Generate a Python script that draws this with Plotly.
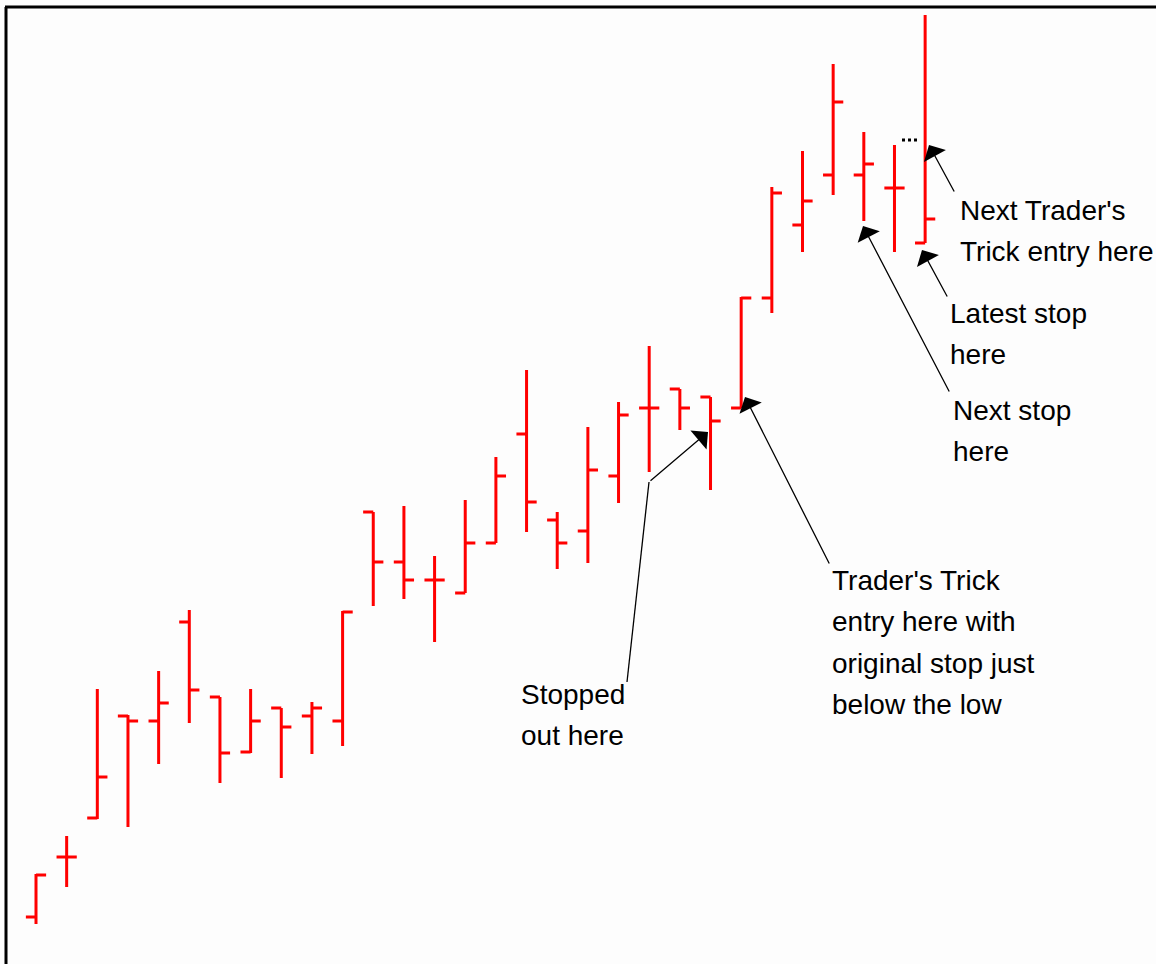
import plotly.graph_objects as go

# price bars (arbitrary price units, higher = up)
bar_no = list(range(30))
opens = [47, 107, 146, 248, 243, 342, 267, 212, 256, 248,
         243, 452, 402, 384, 371, 421, 530, 444, 433, 488,
         556, 575, 567, 556, 666, 739, 789, 789, 776, 721]
highs = [90, 128, 275, 249, 293, 354, 267, 275, 256, 262,
         353, 452, 458, 408, 464, 507, 594, 452, 537, 562,
         618, 575, 567, 667, 777, 813, 900, 832, 819, 949]
lows = [40, 77, 145, 137, 200, 241, 181, 211, 186, 210,
        218, 358, 365, 322, 371, 421, 432, 395, 401, 461,
        492, 534, 474, 556, 651, 712, 769, 743, 712, 721]
closes = [89, 107, 187, 243, 261, 274, 211, 243, 237, 256,
          352, 402, 384, 384, 421, 488, 462, 421, 494, 549,
          556, 556, 543, 666, 771, 763, 862, 800, 776, 745]

W, H = 1156, 964
X0, DX = 36, 30.66   # pixel of first bar, spacing between bars

def px_x(p):
    return (p - X0) / DX

def px_y(p):
    return H - p

fig = go.Figure(go.Ohlc(
    x=bar_no, open=opens, high=highs, low=lows, close=closes,
    increasing=dict(line=dict(color='#ff0000', width=3)),
    decreasing=dict(line=dict(color='#ff0000', width=3)),
    tickwidth=0.33, hoverinfo='skip', showlegend=False))

fnt = dict(family='Liberation Sans, Arial', size=28, color='black')

# text labels: lines, left pixel, centre pixel of first line
labels = [
    (["Stopped", "out here"], 520, 694),
    (["Trader's Trick", "entry here with", "original stop just", "below the low"], 831, 580),
    (["Next stop", "here"], 952, 410),
    (["Latest stop", "here"], 949, 313),
    (["Next Trader's", "Trick entry here"], 959, 210),
]
for lines, lx, ly in labels:
    for k, txt in enumerate(lines):
        fig.add_annotation(x=px_x(lx), y=px_y(ly + 41.5 * k), text=txt, showarrow=False,
                           xanchor='left', yanchor='middle', align='left', font=fnt,
                           borderpad=0)

# arrows: (tip pixel, tail pixel)
arrows = [
    ((708, 432), (649, 482)),
    ((745, 397), (830, 565)),
    ((863, 226), (950, 393)),
    ((922, 250), (948, 298)),
    ((929, 145), (955, 193)),
]
for (tx, ty), (sx, sy) in arrows:
    fig.add_annotation(x=px_x(tx), y=px_y(ty), ax=px_x(sx), ay=px_y(sy),
                       xref='x', yref='y', axref='x', ayref='y', text='',
                       showarrow=True, arrowhead=1, arrowsize=3.2, arrowwidth=1.3,
                       arrowcolor='black', standoff=0)

# kinked leader for "Stopped out here"
fig.add_shape(type='line', x0=px_x(627), y0=px_y(682), x1=px_x(649), y1=px_y(482),
              line=dict(color='black', width=1.3))
# dotted marker next to last bar
fig.add_shape(type='line', x0=px_x(902), y0=px_y(140), x1=px_x(918), y1=px_y(140),
              line=dict(color='black', width=3, dash='dot'))

# frame: thick top and left rule
fig.add_shape(type='line', xref='paper', yref='paper', x0=5 / W, x1=1, y0=1 - 7 / H, y1=1 - 7 / H,
              line=dict(color='black', width=3))
fig.add_shape(type='line', xref='paper', yref='paper', x0=6 / W, x1=6 / W, y0=0, y1=1 - 7 / H,
              line=dict(color='black', width=3))

fig.update_layout(width=W, height=H, margin=dict(l=0, r=0, t=0, b=0),
                  plot_bgcolor='#fdfdfd', paper_bgcolor='#fdfdfd',
                  xaxis=dict(range=[px_x(0), px_x(W)], visible=False, rangeslider=dict(visible=False),
                             fixedrange=True),
                  yaxis=dict(range=[0, H], visible=False, fixedrange=True))

fig.write_html("out.html", config={'displayModeBar': False},
               post_script="document.body.style.margin='0';document.body.style.overflow='hidden';")
